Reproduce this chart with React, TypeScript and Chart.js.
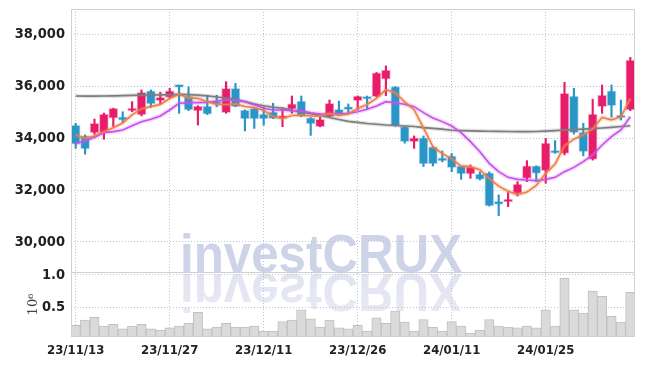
import React, { useEffect, useRef } from 'react';
import { Chart, registerables } from 'chart.js';

Chart.register(...registerables);

const DATES = [
  '23/11/13', '23/11/14', '23/11/15', '23/11/16', '23/11/17', '23/11/20', '23/11/21', '23/11/22', '23/11/23', '23/11/24',
  '23/11/27', '23/11/28', '23/11/29', '23/11/30', '23/12/01', '23/12/04', '23/12/05', '23/12/06', '23/12/07', '23/12/08',
  '23/12/11', '23/12/12', '23/12/13', '23/12/14', '23/12/15', '23/12/18', '23/12/19', '23/12/20', '23/12/21', '23/12/22',
  '23/12/26', '23/12/27', '23/12/28', '24/01/02', '24/01/03', '24/01/04', '24/01/05', '24/01/08', '24/01/09', '24/01/10',
  '24/01/11', '24/01/12', '24/01/15', '24/01/16', '24/01/17', '24/01/18', '24/01/19', '24/01/22', '24/01/23', '24/01/24',
  '24/01/25', '24/01/26', '24/01/29', '24/01/30', '24/01/31', '24/02/01', '24/02/02', '24/02/05', '24/02/06', '24/02/07',
];

const SHOWN_TICKS = ['23/11/13', '23/11/27', '23/12/11', '23/12/26', '24/01/11', '24/01/25'];

const OPEN = [
  34500, 34080, 34200, 34200, 34760, 34810, 35040, 34885, 35810, 35435,
  35565, 36000, 35615, 35040, 35230, 35360, 34975, 35910, 35077, 35140,
  34920, 35010, 34745, 35105, 35420, 34780, 34435, 34820, 35105, 35110,
  35435, 35510, 35590, 36260, 35975, 34435, 33860, 34010, 33665, 33140,
  33310, 32925, 32615, 32615, 32665, 31470, 31540, 31870, 32450, 32925,
  32740, 33470, 33410, 35615, 34230, 33180, 35205, 35810, 34790, 35080,
];
const HIGH = [
  34570, 34120, 34730, 34960, 35150, 35010, 35400, 35850, 35850, 35760,
  35910, 36010, 35970, 35240, 35650, 35650, 36170, 36100, 35080, 35145,
  35200, 35335, 35140, 35615, 35615, 34785, 34800, 35460, 35420, 35310,
  35620, 35615, 36520, 36770, 35980, 34440, 34080, 34080, 33670, 33500,
  33410, 32930, 32960, 32700, 32700, 31810, 31900, 32320, 33130, 32930,
  33990, 33900, 36140, 35910, 34565, 35490, 36040, 36040, 35460, 37100,
];
const LOW = [
  33600, 33380, 34140, 33950, 34440, 34590, 35010, 34850, 35180, 35310,
  35530, 34950, 35050, 34500, 34900, 35200, 34950, 35200, 34270, 34370,
  34490, 34740, 34435, 34950, 34820, 34100, 34430, 34815, 34920, 34920,
  35077, 35100, 35580, 35630, 34450, 33800, 33600, 32900, 32920, 33085,
  32700, 32410, 32450, 32385, 31380, 31010, 31360, 31770, 32320, 32320,
  32260, 33410, 33350, 34150, 33310, 33150, 34950, 34800, 34690, 35050,
];
const CLOSE = [
  33760, 33580, 34560, 34920, 35140, 34690, 35140, 35760, 35310, 35565,
  35810, 35950, 35077, 35230, 34912, 35300, 35910, 35205, 34730, 34730,
  34730, 34745, 34820, 35310, 34820, 34540, 34720, 35335, 34925, 35090,
  35615, 35490, 36510, 36615, 34460, 33860, 34010, 33000, 33000, 33120,
  32860, 32615, 32895, 32410, 31385, 31450, 31615, 32230, 32925, 32640,
  33800, 33415, 35720, 34205, 33470, 34920, 35655, 35245, 34770, 37000,
];

// volume in units of 10^6
const VOLUME = [
  0.22, 0.30, 0.345, 0.21, 0.235, 0.165, 0.21, 0.235, 0.165, 0.145,
  0.18, 0.21, 0.255, 0.42, 0.165, 0.195, 0.25, 0.195, 0.195, 0.21,
  0.13, 0.13, 0.28, 0.30, 0.46, 0.32, 0.195, 0.30, 0.18, 0.165,
  0.22, 0.13, 0.335, 0.25, 0.44, 0.27, 0.13, 0.31, 0.19, 0.13,
  0.28, 0.21, 0.10, 0.145, 0.31, 0.21, 0.195, 0.18, 0.21, 0.18,
  0.46, 0.21, 0.95, 0.46, 0.41, 0.75, 0.67, 0.36, 0.27, 0.73,
];

const MA5 = [
  34115, 33990, 34077, 34244, 34392, 34578, 34890, 35130, 35208, 35293,
  35517, 35679, 35542, 35526, 35396, 35294, 35286, 35311, 35211, 35175,
  35061, 34828, 34751, 34867, 34885, 34847, 34842, 34945, 34868, 34922,
  35137, 35291, 35526, 35864, 35738, 35387, 35091, 34389, 33666, 33398,
  33198, 32919, 32898, 32780, 32433, 32151, 31951, 31818, 31921, 32172,
  32642, 33002, 33700, 33956, 34122, 34346, 34794, 34699, 34812, 35518,
];
const MA20 = [
  33795, 33885, 34026, 34205, 34244, 34308, 34474, 34628, 34718, 34846,
  35077, 35334, 35359, 35359, 35372, 35423, 35462, 35462, 35398, 35280,
  35141, 35077, 35077, 35051, 35051, 34974, 34923, 34923, 34923, 34949,
  35013, 35103, 35231, 35398, 35359, 35295, 35205, 34974, 34770, 34630,
  34461, 34205, 33859, 33474, 33025, 32705, 32487, 32410, 32384, 32359,
  32410, 32487, 32705, 32871, 33090, 33346, 33730, 34051, 34307, 34820,
];
const MA60 = [
  35615, 35610, 35610, 35615, 35620, 35630, 35640, 35650, 35655, 35660,
  35665, 35680, 35670, 35650, 35620, 35580, 35540, 35480, 35400, 35310,
  35240, 35180, 35150, 35070, 35000, 34930, 34870, 34790, 34710, 34640,
  34600, 34560, 34530, 34500, 34480, 34460, 34440, 34400, 34370, 34340,
  34300, 34285, 34275, 34265, 34258, 34255, 34250, 34247, 34244, 34250,
  34265, 34285, 34305, 34325, 34340, 34360, 34385, 34410, 34440, 34470,
];

const PRICE_TICKS = [30000, 32000, 34000, 36000, 38000];
const VOLUME_TICKS = [0.5, 1.0];

const RED = 'rgb(232,28,104)';
const BLUE = 'rgb(42,150,200)';
const ORANGE = 'rgb(238,125,70)';
const PURPLE = 'rgb(200,80,238)';
const GRAY = 'rgb(125,125,125)';
const GRID = 'rgb(190,195,215)';
const FRAME = 'rgb(208,208,208)';
const TICK_FONT = "'Liberation Sans Narrow', 'DejaVu Sans Condensed', 'Roboto', sans-serif";

const overlayPlugin = {
  id: 'overlay',
  beforeDraw(chart: any) {
    const ctx = chart.ctx as CanvasRenderingContext2D;
    const sep = chart.scales.yv.top;
    const text = 'investCRUX';
    ctx.save();
    ctx.font = "bold 54px 'Liberation Sans', Arial, sans-serif";
    const w = ctx.measureText(text).width;
    const sx = 282 / w;
    ctx.textAlign = 'center';
    ctx.textBaseline = 'alphabetic';
    ctx.save();
    ctx.translate(321, sep - 0.5);
    ctx.scale(sx, 1);
    ctx.fillStyle = 'rgb(206,212,232)';
    ctx.fillText(text, 0, 0);
    ctx.restore();
    ctx.save();
    ctx.translate(321, sep + 1.5);
    ctx.scale(sx, -1);
    const g = ctx.createLinearGradient(0, 0, 0, -40);
    g.addColorStop(0, 'rgb(225,227,241)');
    g.addColorStop(1, 'rgb(232,233,244)');
    ctx.fillStyle = g;
    ctx.fillText(text, 0, 0);
    ctx.restore();
    ctx.restore();
  },
  afterDraw(chart: any) {
    const ctx = chart.ctx as CanvasRenderingContext2D;
    const a = chart.chartArea;
    const sep = chart.scales.yv.top;
    ctx.save();
    ctx.strokeStyle = FRAME;
    ctx.lineWidth = 1;
    ctx.beginPath();
    ctx.rect(Math.round(a.left) + 0.5, Math.round(a.top) + 0.5, Math.round(a.right - a.left) - 1, Math.round(a.bottom - a.top) - 1);
    ctx.moveTo(a.left, Math.round(sep) + 0.5);
    ctx.lineTo(a.right, Math.round(sep) + 0.5);
    ctx.stroke();
    // volume axis title 10^6
    ctx.translate(34, (chart.scales.yv.top + chart.scales.yv.bottom) / 2);
    ctx.rotate(-Math.PI / 2);
    ctx.font = "13px 'DejaVu Serif', serif";
    ctx.fillStyle = '#444';
    ctx.textAlign = 'center';
    ctx.textBaseline = 'middle';
    ctx.fillText('10\u2076', 0, 0);
    ctx.restore();
  },
};

const noPad = (s: any) => {
  s.paddingTop = 0;
  s.paddingBottom = 0;
  s.paddingLeft = 0;
  s.paddingRight = 0;
};

export default function App() {
  const ref = useRef<HTMLCanvasElement | null>(null);

  useEffect(() => {
    if (!ref.current) return;
    const up = CLOSE.map((c, i) => c >= OPEN[i]);
    const colors = up.map((u) => (u ? RED : BLUE));
    const halo = (c: string, a: number) => c.replace('rgb(', 'rgba(').replace(')', `,${a})`);
    const haloColors = colors.map((c) => halo(c, 0.3));
    const bodies = OPEN.map((o, i) => [o, CLOSE[i]]);
    const wicks = LOW.map((l, i) => [l, HIGH[i]]);

    const lineDs = (label: string, data: number[], color: string, order: number, width: number) => ({
      type: 'line' as const,
      label,
      data,
      yAxisID: 'y',
      borderColor: color,
      borderWidth: width,
      pointRadius: 0,
      tension: 0,
      fill: false,
      order,
    });

    const chart = new Chart(ref.current, {
      type: 'bar',
      data: {
        labels: DATES,
        datasets: [
          lineDs('MA5', MA5, ORANGE, 0, 1.6),
          lineDs('MA20', MA20, PURPLE, 0, 1.6),
          lineDs('MA60', MA60, GRAY, 0, 1.6),
          lineDs('MA5h', MA5, halo(ORANGE, 0.22), 1, 4.5),
          lineDs('MA20h', MA20, halo(PURPLE, 0.22), 1, 4.5),
          lineDs('MA60h', MA60, halo(GRAY, 0.22), 1, 4),
          {
            type: 'bar',
            label: 'body',
            data: bodies as any,
            yAxisID: 'y',
            backgroundColor: colors,
            borderColor: haloColors,
            borderWidth: 1,
            borderSkipped: false,
            barThickness: 9,
            minBarLength: 3,
            grouped: false,
            order: 2,
          } as any,
          {
            type: 'bar',
            label: 'wick',
            data: wicks as any,
            yAxisID: 'y',
            backgroundColor: colors,
            barThickness: 1.5,
            grouped: false,
            order: 3,
          } as any,
          {
            type: 'bar',
            label: 'volume',
            data: VOLUME,
            yAxisID: 'yv',
            backgroundColor: 'rgb(218,218,218)',
            borderColor: 'rgb(192,192,192)',
            borderWidth: 1,
            barPercentage: 1,
            categoryPercentage: 1,
            grouped: false,
            order: 4,
          } as any,
        ],
      },
      options: {
        animation: false,
        responsive: false,
        devicePixelRatio: 1,
        layout: { padding: { top: 9, right: 10, left: 0, bottom: 0 } },
        plugins: { legend: { display: false }, tooltip: { enabled: false } },
        scales: {
          x: {
            type: 'category',
            offset: true,
            grid: {
              offset: false,
              drawTicks: false,
              color: (c: any) => (SHOWN_TICKS.includes(DATES[c.index]) ? GRID : 'rgba(0,0,0,0)'),
            },
            border: { display: false, dash: [1, 2] },
            ticks: {
              autoSkip: false,
              maxRotation: 0,
              padding: 6,
              color: '#222',
              font: { family: TICK_FONT, size: 13, weight: 'bold' },
              callback: (_v: any, i: number) => (SHOWN_TICKS.includes(DATES[i]) ? DATES[i] : ''),
            },
            afterFit: (s: any) => {
              s.height = 29;
              noPad(s);
            },
          },
          yv: {
            type: 'linear',
            position: 'left',
            stack: 'panels',
            stackWeight: 65,
            weight: 0,
            min: 0.04,
            max: 1.046,
            grid: { drawTicks: false, color: GRID },
            border: { display: false, dash: [1, 2] },
            ticks: {
              padding: 6,
              color: '#222',
              font: { family: TICK_FONT, size: 14.5, weight: 'bold' },
              callback: (v: any) => Number(v).toFixed(1),
            },
            afterBuildTicks: (s: any) => {
              s.ticks = VOLUME_TICKS.map((v) => ({ value: v }));
            },
            afterFit: (s: any) => {
              s.width = 71;
              noPad(s);
            },
          },
          y: {
            type: 'linear',
            position: 'left',
            stack: 'panels',
            stackWeight: 263,
            weight: 1,
            min: 28846,
            max: 38962,
            grid: { drawTicks: false, color: GRID },
            border: { display: false, dash: [1, 2] },
            ticks: {
              padding: 6,
              color: '#222',
              font: { family: TICK_FONT, size: 14.5, weight: 'bold' },
              callback: (v: any) => Number(v).toLocaleString('en-US'),
            },
            afterBuildTicks: (s: any) => {
              s.ticks = PRICE_TICKS.map((v) => ({ value: v }));
            },
            afterFit: (s: any) => {
              s.width = 71;
              noPad(s);
            },
          },
        },
      } as any,
      plugins: [overlayPlugin],
    });

    return () => chart.destroy();
  }, []);

  return (
    <div style={{ position: 'fixed', left: 0, top: 0, width: 645, height: 366, background: '#fff' }}>
      <canvas ref={ref} width={645} height={366} style={{ display: 'block', width: 645, height: 366 }} />
    </div>
  );
}
